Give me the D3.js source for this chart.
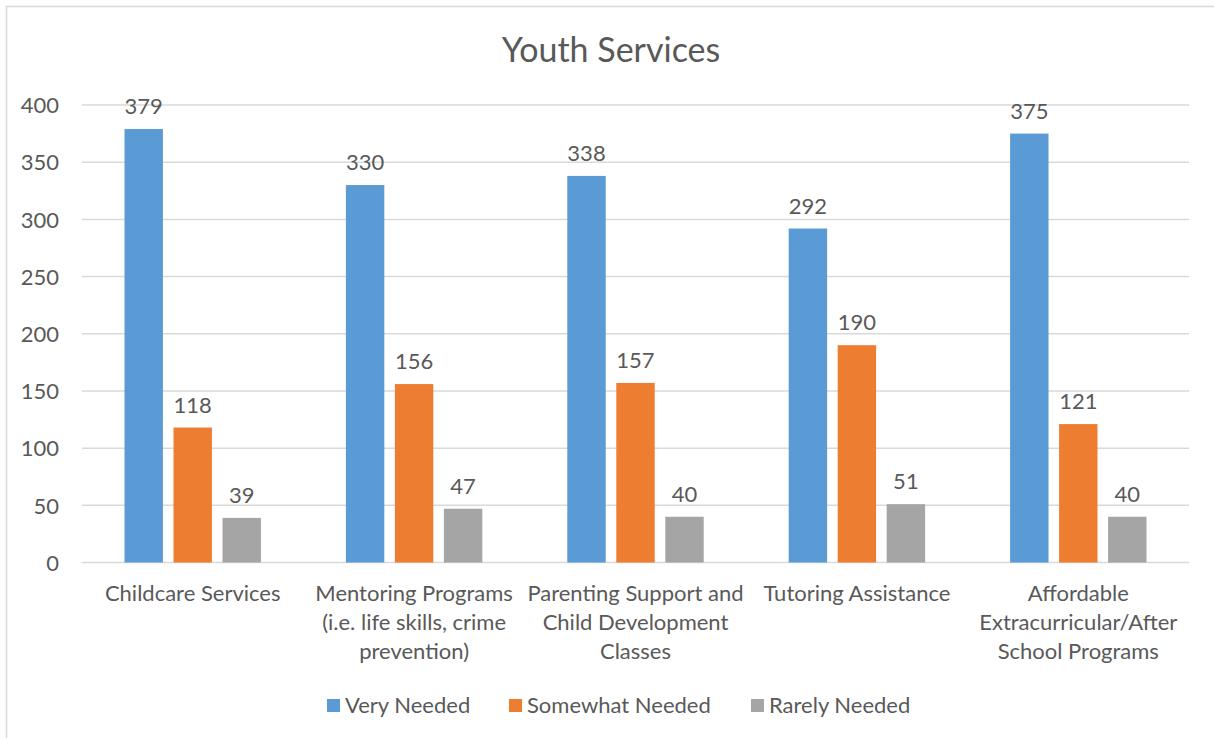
<!DOCTYPE html>
<html>
<head>
<meta charset="utf-8">
<script src="https://cdn.jsdelivr.net/npm/d3@7/dist/d3.min.js"></script>
<style>
  html, body { margin: 0; padding: 0; background: #fff; }
  svg { display: block; }
  text { font-family: Lato, "Open Sans", sans-serif; fill: #595959; }
</style>
</head>
<body>
<svg id="chart" width="1214" height="738"></svg>
<script>
const title = "Youth Services";
const categories = [
  ["Childcare Services"],
  ["Mentoring Programs", "(i.e. life skills, crime", "prevention)"],
  ["Parenting Support and", "Child Development", "Classes"],
  ["Tutoring Assistance"],
  ["Affordable", "Extracurricular/After", "School Programs"]
];
const seriesNames = ["Very Needed", "Somewhat Needed", "Rarely Needed"];
const seriesColors = ["#5B9BD5", "#ED7D31", "#A5A5A5"];
const veryNeeded = [379, 330, 338, 292, 375];
const somewhatNeeded = [118, 156, 157, 190, 121];
const rarelyNeeded = [39, 47, 40, 51, 40];
const yTicks = [0, 50, 100, 150, 200, 250, 300, 350, 400];

(function () {
const seriesValues = [veryNeeded, somewhatNeeded, rarelyNeeded];
const svg = d3.select("#chart");

// outer border
svg.append("rect").attr("x", 6.5).attr("y", 6.5).attr("width", 1300).attr("height", 800)
  .attr("fill", "none").attr("stroke", "#D9D9D9").attr("stroke-width", 1.5);

const pLeft = 82, pRight = 1189, pTop = 105, pBottom = 562.5;
const catIdx = categories.map((d, i) => i);
const x0 = d3.scaleBand().domain(catIdx).range([pLeft, pRight]).paddingInner(0).paddingOuter(0);
const groupW = 136.4;
const x1 = d3.scaleBand().domain(seriesNames)
  .range([(x0.bandwidth() - groupW) / 2, (x0.bandwidth() + groupW) / 2])
  .paddingInner(0.216).paddingOuter(0);
const y = d3.scaleLinear().domain([0, 400]).range([pBottom, pTop]);

// gridlines
svg.append("g").selectAll("line").data(yTicks).join("line")
  .attr("x1", pLeft).attr("x2", pRight)
  .attr("y1", d => y(d)).attr("y2", d => y(d))
  .attr("stroke", "#D9D9D9").attr("stroke-width", 1.5);

// y axis labels
const yAxis = d3.axisLeft(y).tickValues(yTicks).tickSize(0).tickPadding(0);
const yg = svg.append("g").attr("transform", `translate(${59},0)`).call(yAxis);
yg.select(".domain").remove();
yg.selectAll("text").style("font-size", "22px").attr("fill", "#595959")
  .style("font-family", "Lato, 'Open Sans', sans-serif").attr("dy", "0.35em");

// bars
const groups = svg.append("g").selectAll("g").data(catIdx).join("g")
  .attr("transform", d => `translate(${x0(d)},0)`);
groups.selectAll("rect").data(ci => seriesNames.map((s, si) => ({s, si, v: seriesValues[si][ci]})))
  .join("rect")
  .attr("x", d => x1(d.s)).attr("width", x1.bandwidth())
  .attr("y", d => y(d.v)).attr("height", d => y(0) - y(d.v))
  .attr("fill", d => seriesColors[d.si]);
groups.selectAll("text.val").data(ci => seriesNames.map((s, si) => ({s, si, v: seriesValues[si][ci]})))
  .join("text").attr("class", "val")
  .attr("x", d => x1(d.s) + x1.bandwidth() / 2)
  .attr("y", d => y(d.v) - 15)
  .attr("text-anchor", "middle").style("font-size", "22px")
  .text(d => d.v);

// category labels
const xg = svg.append("g");
categories.forEach((lines, i) => {
  const t = xg.append("text").attr("text-anchor", "middle").style("font-size", "22px")
    .attr("x", x0(i) + x0.bandwidth() / 2).attr("y", 601);
  lines.forEach((ln, j) => {
    t.append("tspan").attr("x", x0(i) + x0.bandwidth() / 2).attr("dy", j === 0 ? 0 : 29).text(ln);
  });
});

// title
svg.append("text").attr("x", 611).attr("y", 62).attr("text-anchor", "middle")
  .style("font-size", "34px").text(title);

// legend
const legendX = [327, 509, 751];
const lg = svg.append("g").selectAll("g").data(seriesNames).join("g")
  .attr("transform", (d, i) => `translate(${legendX[i]},0)`);
lg.append("rect").attr("x", 0).attr("y", 699).attr("width", 13).attr("height", 13)
  .attr("fill", (d, i) => seriesColors[i]);
lg.append("text").attr("x", 18).attr("y", 713).style("font-size", "22px").text(d => d);
})();
</script>
</body>
</html>
